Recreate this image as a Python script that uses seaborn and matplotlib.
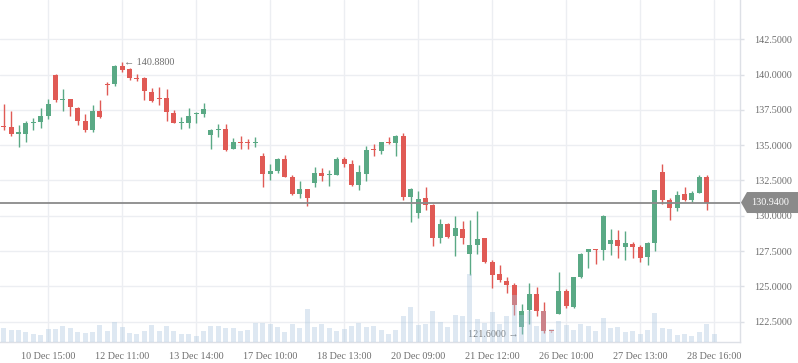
import numpy as np
import pandas as pd
import matplotlib
matplotlib.use("Agg")
import matplotlib.pyplot as plt
from matplotlib.patches import Polygon
import seaborn as sns

# ---------------- data ----------------
opens = [136.30, 136.29, 135.82, 135.82, 136.59, 136.67, 137.09, 139.97, 138.18, 138.27,
         137.63, 136.71, 136.10, 137.42, 139.33, 139.33, 140.61, 140.40, 139.74, 139.76,
         138.77, 138.34, 138.37, 137.28, 136.59, 136.59, 137.19, 137.23, 135.75, 136.10,
         136.15, 134.75, 135.23, 135.23, 135.13, 134.23, 132.98, 133.19, 134.04, 132.75,
         131.57, 131.90, 132.34, 133.01, 132.87, 132.91, 134.02, 133.65, 132.20, 132.98,
         134.73, 134.61, 135.23, 135.18, 135.65, 131.35, 130.22, 131.26, 130.77, 128.45,
         129.42, 128.57, 129.07, 127.27, 127.95, 128.43, 126.71, 125.88, 125.38, 125.10,
         122.15, 123.35, 124.44, 123.26, 121.83, 123.07, 124.68, 123.56, 125.64, 127.41,
         127.63, 127.60, 128.03, 128.28, 127.81, 128.00, 127.77, 127.06, 128.10, 133.10,
         131.10, 130.57, 131.52, 131.14, 131.64, 132.73]
highs = [137.92, 137.42, 136.43, 136.71, 136.93, 137.63, 138.25, 140.04, 138.98, 138.30,
         137.71, 137.19, 137.85, 138.20, 139.50, 140.68, 140.88, 140.45, 140.04, 139.80,
         139.05, 139.12, 138.98, 137.49, 137.02, 137.63, 137.37, 137.99, 136.13, 136.48,
         136.48, 135.53, 135.65, 135.44, 135.58, 134.45, 133.67, 134.09, 134.31, 132.87,
         132.46, 131.93, 133.46, 133.36, 133.24, 134.14, 134.14, 133.95, 133.62, 134.94,
         135.08, 135.25, 135.56, 135.72, 135.86, 131.97, 131.76, 132.04, 130.80, 129.77,
         129.49, 130.01, 129.61, 129.71, 130.34, 128.46, 126.87, 126.52, 125.67, 125.22,
         123.73, 125.24, 124.93, 123.87, 121.85, 126.02, 124.82, 125.66, 127.36, 127.65,
         127.65, 130.06, 129.07, 128.99, 128.92, 128.14, 127.93, 128.14, 131.85, 133.67,
         131.26, 131.76, 132.04, 131.76, 132.87, 132.87]
lows = [136.10, 135.67, 134.89, 135.23, 136.10, 136.24, 136.83, 138.08, 137.44, 137.07,
        136.43, 135.96, 135.96, 136.95, 138.56, 139.21, 140.16, 139.64, 139.55, 138.22,
        138.08, 137.85, 136.74, 136.55, 136.15, 136.24, 136.59, 137.02, 134.75, 135.56,
        134.59, 134.71, 134.73, 134.73, 134.87, 132.04, 132.51, 133.05, 132.72, 131.47,
        131.28, 130.72, 132.04, 132.49, 132.13, 132.88, 133.48, 132.13, 131.83, 132.46,
        134.26, 134.35, 135.11, 134.26, 131.14, 129.58, 129.87, 130.43, 127.88, 128.10,
        128.45, 127.17, 128.03, 125.81, 127.29, 126.66, 124.91, 125.33, 124.55, 122.99,
        121.60, 122.34, 122.93, 121.72, 121.78, 123.05, 123.47, 123.49, 125.62, 126.33,
        126.61, 126.89, 127.22, 127.03, 126.89, 127.03, 126.75, 126.54, 127.53, 130.86,
        129.72, 130.36, 131.07, 130.96, 131.62, 130.43]
closes = [136.27, 135.82, 135.87, 136.57, 136.64, 137.05, 137.92, 138.22, 138.25, 137.73,
          136.74, 136.10, 137.42, 137.02, 139.28, 140.61, 140.35, 139.78, 139.69, 138.86,
          138.15, 138.29, 137.37, 136.59, 136.64, 137.07, 137.23, 137.56, 136.08, 136.15,
          134.66, 135.23, 135.18, 135.13, 135.23, 132.98, 133.17, 134.04, 132.77, 131.54,
          131.90, 131.28, 133.01, 132.84, 132.94, 134.02, 133.69, 132.18, 133.10, 134.64,
          134.64, 135.23, 135.16, 135.65, 131.35, 131.90, 131.19, 130.79, 128.45, 129.42,
          128.52, 129.14, 128.45, 127.93, 128.36, 126.73, 125.83, 125.45, 125.12, 123.70,
          123.26, 124.44, 123.28, 121.86, 121.81, 124.68, 123.61, 125.64, 127.29, 127.63,
          127.58, 129.99, 128.28, 127.88, 128.07, 127.81, 127.03, 128.07, 131.83, 131.14,
          130.57, 131.45, 131.14, 131.61, 132.73, 130.94]
volumes = [13.7, 11.7, 11.7, 9.7, 7.7, 6.7, 12.7, 12.7, 15.7, 13.7,
           9.7, 8.7, 9.7, 16.7, 10.7, 19.7, 14.7, 8.7, 7.7, 10.7,
           16.7, 10.7, 15.7, 10.7, 7.7, 7.7, 5.7, 10.7, 15.7, 15.7,
           13.7, 13.7, 10.7, 11.7, 18.7, 18.7, 17.7, 14.7, 9.7, 17.7,
           13.7, 32.7, 14.7, 17.7, 13.7, 10.7, 12.7, 15.7, 18.7, 14.7,
           15.7, 11.7, 7.7, 11.7, 25.7, 34.7, 16.7, 17.7, 30.7, 19.7,
           14.7, 26.7, 25.7, 68.0, 22.7, 18.7, 29.7, 17.7, 25.7, 47.0,
           27.0, 31.0, 16.0, 31.0, 13.0, 21.0, 17.0, 12.0, 18.0, 16.0,
           11.0, 24.0, 14.0, 15.0, 10.0, 11.0, 8.0, 12.0, 29.0, 14.0,
           13.0, 7.0, 8.0, 6.0, 10.0, 18.0, 8.0]
tick_labels = ["10 Dec 15:00", "12 Dec 11:00", "13 Dec 14:00", "17 Dec 10:00",
               "18 Dec 13:00", "20 Dec 09:00", "21 Dec 12:00", "26 Dec 10:00",
               "27 Dec 13:00", "28 Dec 16:00"]
price_ticks = [122.5, 125.0, 127.5, 130.0, 132.5, 135.0, 137.5, 140.0, 142.5]
max_label = "140.8800"
min_label = "121.6000"
last_price = 130.94

# ---------------- style ----------------
sns.set_theme(style="white")
plt.rcParams['font.family'] = ['Liberation Serif', 'DejaVu Sans']

UP = "#5aa985"
DOWN = "#e05a55"
GRID = "#eceef2"
AXIS = "#dde0e6"
TXT = "#6e6e6e"
FS = 7.3

W, H = 798, 363
fig = plt.figure(figsize=(W / 100, H / 100), dpi=100)
fig.patch.set_facecolor("white")
rect = [0, 21 / H, 740 / W, 342 / H]
ax = fig.add_axes(rect)
n_slots = 100
ax.set_xlim(-0.5, n_slots - 0.5)
ax.set_ylim(121.062, 145.283)

df = pd.DataFrame({"open": opens, "high": highs, "low": lows, "close": closes})
df["idx"] = np.arange(len(df))
df["up"] = df["close"] >= df["open"]
colors = np.where(df["up"], UP, DOWN)

# wicks
ax.vlines(df["idx"], df["low"], df["high"], colors=colors, lw=1.0, zorder=3)
# bodies
body_bottom = np.minimum(df["open"], df["close"])
body_h = np.maximum(np.abs(df["close"] - df["open"]), 0.08)
ax.bar(df["idx"], body_h, bottom=body_bottom, width=0.7, color=colors,
       linewidth=0, zorder=4)

# grid / ticks
tick_pos = [6 + 10 * k for k in range(len(tick_labels))]
ax.set_xticks(tick_pos)
ax.set_xticklabels(tick_labels)
ax.yaxis.tick_right()
ax.set_yticks(price_ticks)
ax.set_yticklabels([f"{v:.4f}" for v in price_ticks])
ax.grid(True, color=GRID, lw=1.0, zorder=0)
ax.set_axisbelow(True)
for s in ["top", "left"]:
    ax.spines[s].set_visible(False)
for s in ["right", "bottom"]:
    ax.spines[s].set_visible(True)
    ax.spines[s].set_color(AXIS)
    ax.spines[s].set_linewidth(1.0)
ax.tick_params(axis="x", colors=AXIS, length=4, width=1, pad=3, labelsize=FS,
               labelcolor=TXT)
ax.tick_params(axis="y", colors=AXIS, length=3, width=1, pad=7, labelsize=FS,
               labelcolor=TXT)

# current price line
ax.axhline(last_price, color="#8a8a8a", lw=1.3, zorder=5)

# extreme labels
ax.text(16.3, 140.88, "\u2190 " + max_label, ha="left", va="center",
        fontsize=FS, color=TXT, zorder=6)
ax.text(69.6, 121.62, min_label + " \u2192", ha="right", va="center",
        fontsize=FS, color=TXT, zorder=6)

# volume bars (on top, translucent)
axv = fig.add_axes(rect, sharex=None)
axv.patch.set_alpha(0)
vdf = pd.DataFrame({"idx": np.arange(len(volumes)), "vol": volumes})
sns.barplot(data=vdf, x="idx", y="vol", native_scale=True, color="#a9c5df",
            saturation=1, width=0.7, alpha=0.38, errorbar=None, ax=axv,
            linewidth=0)
axv.set_xlim(-0.5, n_slots - 0.5)
axv.set_ylim(0, 342)
axv.axis("off")

# current price tag
y_px = H - (21 + (last_price - 121.062) / (145.283 - 121.062) * 342)
top, bot = y_px - 10.5, y_px + 10.5
pts = [(741, y_px), (747, top), (798, top), (798, bot), (747, bot)]
pts = [(x / W, 1 - y / H) for x, y in pts]
fig.patches.append(Polygon(pts, closed=True, transform=fig.transFigure,
                           facecolor="#8a8a8a", edgecolor="none"))
fig.text(751 / W, 1 - y_px / H, f"{last_price:.4f}", ha="left", va="center",
         fontsize=FS, color="white")

fig.savefig("out.png", dpi=100)
